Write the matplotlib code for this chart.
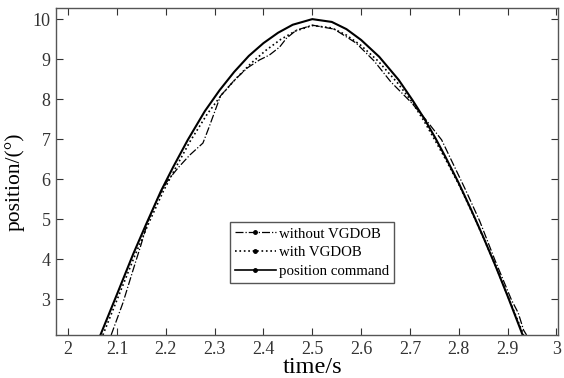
import matplotlib.pyplot as plt
from matplotlib.lines import Line2D

plt.rcParams['font.family'] = ['Liberation Serif', 'DejaVu Serif']

# position command (solid)
t_cmd = [2.066, 2.100, 2.133, 2.160, 2.190, 2.215, 2.245, 2.280, 2.310, 2.340, 2.370, 2.400,
         2.430, 2.460, 2.500, 2.540, 2.570, 2.600, 2.637, 2.677, 2.705, 2.730, 2.752, 2.773,
         2.800, 2.826, 2.850, 2.875, 2.900, 2.931]
y_cmd = [2.1, 3.12, 4.12, 4.88, 5.7, 6.3, 6.98, 7.7, 8.22, 8.68, 9.08, 9.4,
         9.66, 9.86, 10.0, 9.93, 9.75, 9.48, 9.06, 8.48, 7.98, 7.5, 7.03, 6.55,
         5.9, 5.22, 4.56, 3.84, 3.08, 2.1]

# with VGDOB (dotted)
t_with = [2.071, 2.104, 2.137, 2.165, 2.195, 2.220, 2.250, 2.285, 2.315, 2.345, 2.375, 2.405,
          2.435, 2.465, 2.500, 2.540, 2.570, 2.600, 2.635, 2.675, 2.703, 2.728, 2.750, 2.772,
          2.800, 2.826, 2.850, 2.876, 2.901, 2.933]
y_with = [2.1, 3.1, 4.1, 4.9, 5.7, 6.28, 6.95, 7.63, 8.12, 8.53, 8.9, 9.22,
          9.49, 9.7, 9.84, 9.78, 9.6, 9.34, 8.95, 8.4, 7.95, 7.47, 7.0, 6.52,
          5.87, 5.2, 4.55, 3.82, 3.06, 2.1]

# without VGDOB (dash-dot)
t_wo = [2.088, 2.112, 2.133, 2.149, 2.163, 2.182, 2.202, 2.225, 2.249, 2.276, 2.288, 2.300,
        2.312, 2.341, 2.367, 2.392, 2.412, 2.433, 2.447, 2.467, 2.500, 2.545, 2.590, 2.627,
        2.661, 2.704, 2.733, 2.765, 2.814, 2.843, 2.874, 2.908, 2.922, 2.933, 2.939]
y_wo = [2.1, 2.9, 3.73, 4.35, 4.93, 5.48, 5.93, 6.28, 6.6, 6.9, 7.28, 7.68,
        8.08, 8.48, 8.78, 8.98, 9.1, 9.3, 9.52, 9.72, 9.85, 9.75, 9.4, 8.95,
        8.43, 7.9, 7.48, 6.98, 5.73, 4.95, 3.98, 2.98, 2.65, 2.22, 2.1]

fig = plt.figure(figsize=(5.64, 3.78), dpi=100)
ax = fig.add_axes([0.0993, 0.1138, 0.8897, 0.8652])

ax.plot(t_wo, y_wo, color='black', linestyle='-.', linewidth=0.9)
ax.plot(t_with, y_with, color='black', linestyle=':', linewidth=1.2)
ax.plot(t_cmd, y_cmd, color='black', linestyle='-', linewidth=1.5)

ax.set_xlim(1.975, 3.003)
ax.set_ylim(2.1, 10.28)
ax.set_xticks([2, 2.1, 2.2, 2.3, 2.4, 2.5, 2.6, 2.7, 2.8, 2.9, 3])
ax.set_xticklabels(['2', '2.1', '2.2', '2.3', '2.4', '2.5', '2.6', '2.7', '2.8', '2.9', '3'])
ax.set_yticks([3, 4, 5, 6, 7, 8, 9, 10])
ax.tick_params(direction='in', top=True, right=True, length=5, width=0.8,
               labelsize=13, colors='#333333', pad=4)
for s in ax.spines.values():
    s.set_color('#555555')
    s.set_linewidth(1.0)

ax.set_xlabel('time/s', fontsize=17.5)
ax.set_ylabel('position/(°)', fontsize=15.5)
ax.xaxis.set_label_coords(0.511, -0.068)
ax.yaxis.set_label_coords(-0.062, 0.468)

handles = [
    Line2D([0, 0.5, 1], [0, 0, 0], color='black', linestyle='-.', linewidth=0.9,
           marker='.', markersize=5, markevery=[1]),
    Line2D([0, 0.5, 1], [0, 0, 0], color='black', linestyle=':', linewidth=1.2,
           marker='.', markersize=5, markevery=[1]),
    Line2D([0, 0.5, 1], [0, 0, 0], color='black', linestyle='-', linewidth=1.2,
           marker='.', markersize=5, markevery=[1]),
]
leg = ax.legend(handles, ['without VGDOB', 'with VGDOB', 'position command'],
                loc='lower left', bbox_to_anchor=(0.347, 0.159), borderaxespad=0,
                fontsize=10.7, handlelength=2.75, handletextpad=0.2,
                labelspacing=0.36, borderpad=0.33, fancybox=False, framealpha=1)
leg.get_frame().set_edgecolor('#555555')
leg.get_frame().set_linewidth(1.0)

fig.savefig('out.png', dpi=100)
